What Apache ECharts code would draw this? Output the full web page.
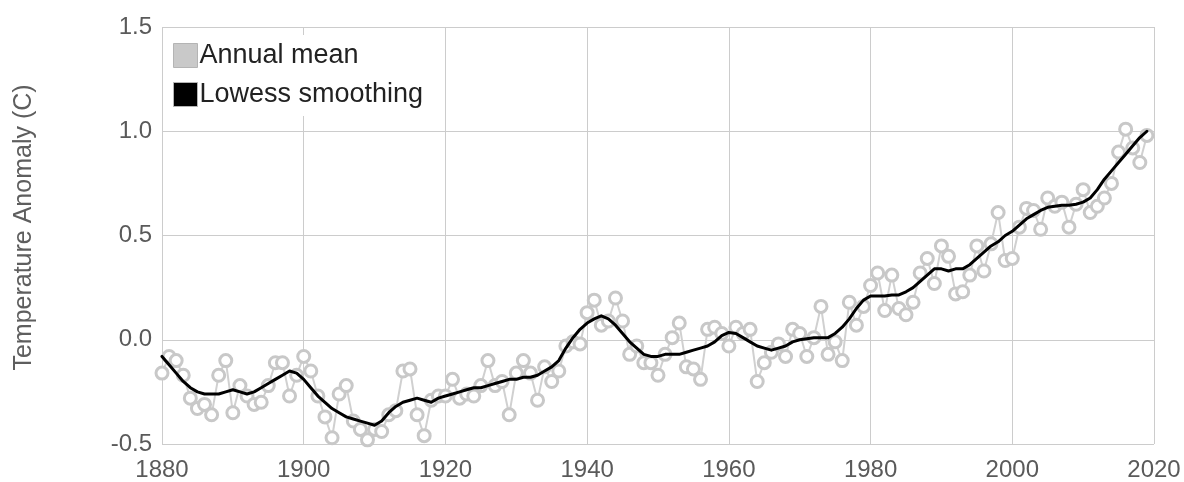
<!DOCTYPE html>
<html>
<head>
<meta charset="utf-8">
<script src="https://cdn.jsdelivr.net/npm/echarts@6/dist/echarts.min.js"></script>
<style>
  html, body { margin: 0; padding: 0; background: #fff; }
  #chart { width: 1184px; height: 482px; }
</style>
</head>
<body>
<div id="chart"></div>
<script>
// Global land-ocean temperature anomaly, 1880-2019 (°C)
const startYear = 1880;
const annualMean = [
  -0.16, -0.08, -0.10, -0.17, -0.28, -0.33, -0.31, -0.36, -0.17, -0.10,
  -0.35, -0.22, -0.27, -0.31, -0.30, -0.22, -0.11, -0.11, -0.27, -0.17,
  -0.08, -0.15, -0.27, -0.37, -0.47, -0.26, -0.22, -0.39, -0.43, -0.48,
  -0.43, -0.44, -0.36, -0.34, -0.15, -0.14, -0.36, -0.46, -0.29, -0.27,
  -0.27, -0.19, -0.28, -0.26, -0.27, -0.22, -0.10, -0.22, -0.20, -0.36,
  -0.16, -0.10, -0.16, -0.29, -0.13, -0.20, -0.15, -0.03, -0.01, -0.02,
   0.13,  0.19,  0.07,  0.09,  0.20,  0.09, -0.07, -0.03, -0.11, -0.11,
  -0.17, -0.07,  0.01,  0.08, -0.13, -0.14, -0.19,  0.05,  0.06,  0.03,
  -0.03,  0.06,  0.03,  0.05, -0.20, -0.11, -0.06, -0.02, -0.08,  0.05,
   0.03, -0.08,  0.01,  0.16, -0.07, -0.01, -0.10,  0.18,  0.07,  0.16,
   0.26,  0.32,  0.14,  0.31,  0.15,  0.12,  0.18,  0.32,  0.39,  0.27,
   0.45,  0.40,  0.22,  0.23,  0.31,  0.45,  0.33,  0.46,  0.61,  0.38,
   0.39,  0.54,  0.63,  0.62,  0.53,  0.68,  0.64,  0.66,  0.54,  0.65,
   0.72,  0.61,  0.64,  0.68,  0.75,  0.90,  1.01,  0.92,  0.85,  0.98
];
const lowess = [
  -0.08, -0.12, -0.16, -0.20, -0.23, -0.25, -0.26, -0.26, -0.26, -0.25,
  -0.24, -0.25, -0.26, -0.25, -0.23, -0.21, -0.19, -0.17, -0.15, -0.16,
  -0.19, -0.23, -0.27, -0.30, -0.33, -0.35, -0.37, -0.38, -0.39, -0.40,
  -0.41, -0.39, -0.35, -0.32, -0.30, -0.29, -0.28, -0.29, -0.30, -0.28,
  -0.27, -0.26, -0.25, -0.24, -0.23, -0.23, -0.22, -0.21, -0.20, -0.19,
  -0.19, -0.18, -0.18, -0.17, -0.15, -0.13, -0.10, -0.04,  0.01,  0.05,
   0.08,  0.10,  0.115, 0.10,  0.07,  0.03, -0.01, -0.04, -0.07, -0.08,
  -0.08, -0.07, -0.07, -0.07, -0.06, -0.05, -0.04, -0.03, -0.01,  0.02,
   0.035, 0.03,  0.01, -0.01, -0.03, -0.04, -0.05, -0.04, -0.03, -0.01,
   0.00,  0.005, 0.01,  0.01,  0.01,  0.03,  0.06,  0.10,  0.15,  0.19,
   0.21,  0.21,  0.21,  0.215, 0.215, 0.23,  0.25,  0.28,  0.31,  0.34,
   0.34,  0.33,  0.34,  0.34,  0.36,  0.39,  0.42,  0.45,  0.47,  0.50,
   0.52,  0.55,  0.58,  0.60,  0.62,  0.635, 0.64,  0.645, 0.645, 0.65,
   0.66,  0.68,  0.72,  0.77,  0.81,  0.85,  0.89,  0.93,  0.97,  1.00
];
const years = annualMean.map((_, i) => startYear + i);
const seriesNames = ['Annual mean', 'Lowess smoothing'];
const yAxisTitle = 'Temperature Anomaly (C)';

const fontFamily = '"Liberation Sans", Arial, sans-serif';
const chart = echarts.init(document.getElementById('chart'), null, { renderer: 'canvas' });

chart.setOption({
  animation: false,
  backgroundColor: '#ffffff',
  textStyle: { fontFamily },
  grid: { left: 162, right: 30, top: 27, bottom: 37, containLabel: false },
  legend: {
    orient: 'vertical',
    left: 169,
    top: 35,
    padding: [7, 10, 8, 4],
    backgroundColor: '#ffffff',
    itemWidth: 24,
    itemHeight: 24,
    itemGap: 12,
    textStyle: { fontSize: 27, color: '#222', padding: [0, 0, 0, -3], fontFamily },
    data: [
      { name: seriesNames[0], icon: 'rect', itemStyle: { color: '#c9c9c9', borderColor: '#b4b4b4', borderWidth: 1 } },
      { name: seriesNames[1], icon: 'rect', itemStyle: { color: '#000000', borderColor: '#b4b4b4', borderWidth: 1 } }
    ]
  },
  xAxis: {
    type: 'value',
    min: 1880,
    max: 2020,
    interval: 20,
    axisLine: { show: false },
    axisTick: { show: false },
    splitLine: { show: true, lineStyle: { color: '#cccccc', width: 1 } },
    axisLabel: { color: '#5a5a5a', fontSize: 24, margin: 14, fontFamily, formatter: v => String(v) }
  },
  yAxis: {
    type: 'value',
    min: -0.5,
    max: 1.5,
    interval: 0.5,
    name: yAxisTitle,
    nameLocation: 'middle',
    nameGap: 125,
    nameTextStyle: { color: '#5e5e5e', fontSize: 25, fontFamily, padding: [0, 0, 0, 16] },
    axisLine: { show: false },
    axisTick: { show: false },
    splitLine: { show: true, lineStyle: { color: '#cccccc', width: 1 } },
    axisLabel: { color: '#5a5a5a', fontSize: 24, margin: 10, fontFamily, formatter: v => v.toFixed(1) }
  },
  series: [
    {
      name: seriesNames[0],
      type: 'line',
      data: years.map((y, i) => [y, annualMean[i]]),
      symbol: 'circle',
      symbolSize: 12,
      showSymbol: true,
      lineStyle: { color: '#d0d0d0', width: 2 },
      itemStyle: { color: '#ffffff', borderColor: '#c8c8c8', borderWidth: 3 },
      z: 2
    },
    {
      name: seriesNames[1],
      type: 'line',
      data: years.map((y, i) => [y, lowess[i]]),
      symbol: 'none',
      smooth: false,
      lineStyle: { color: '#000000', width: 3, join: 'round', cap: 'round' },
      itemStyle: { color: '#000000' },
      z: 3
    }
  ]
});
</script>
</body>
</html>
